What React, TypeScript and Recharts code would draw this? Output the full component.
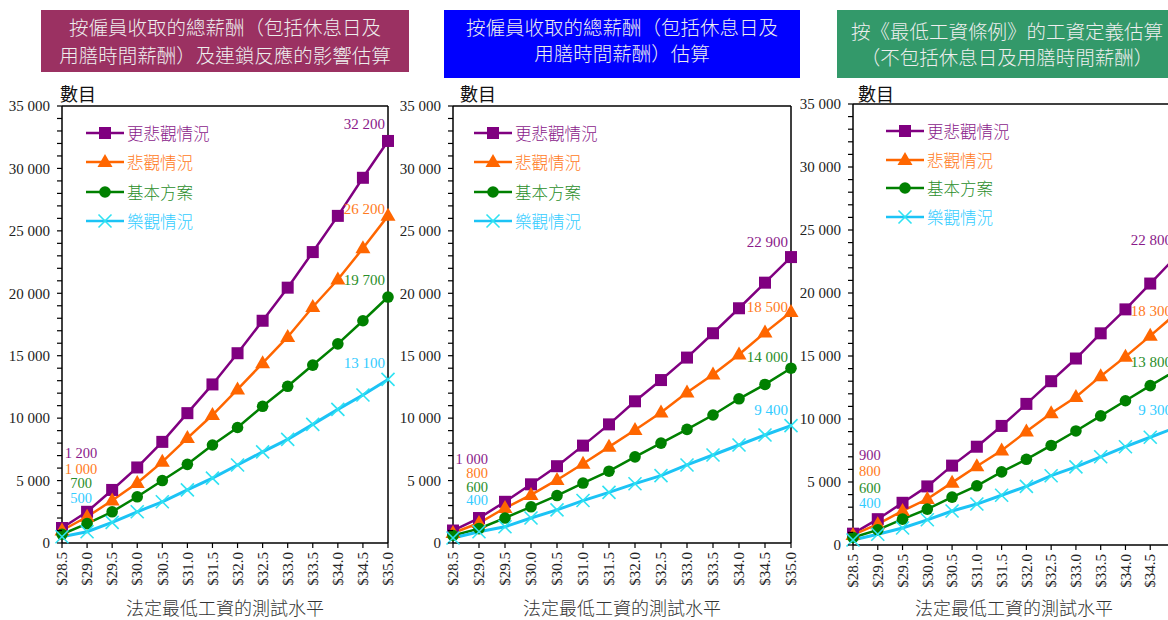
import React from 'react';
import { LineChart, Line, XAxis, YAxis, ReferenceLine, Legend, LabelList } from 'recharts';

const wageLevels = ['$28.5', '$29.0', '$29.5', '$30.0', '$30.5', '$31.0', '$31.5', '$32.0', '$32.5', '$33.0', '$33.5', '$34.0', '$34.5', '$35.0'];
const seriesNames = ['更悲觀情況', '悲觀情況', '基本方案', '樂觀情況'];
const yTicks = Array.from({ length: 36 }, (_, i) => i * 1000);

// panel 1: total pay incl. rest days & meal breaks, with ripple effect
const chainWorse = [1200, 2500, 4250, 6050, 8100, 10400, 12700, 15200, 17800, 20450, 23300, 26200, 29250, 32200];
const chainPess = [1000, 2100, 3400, 4800, 6500, 8400, 10250, 12300, 14400, 16500, 18900, 21100, 23600, 26200];
const chainBase = [700, 1550, 2500, 3700, 5000, 6300, 7850, 9250, 10950, 12550, 14250, 15950, 17800, 19700];
const chainOpt = [500, 900, 1650, 2500, 3300, 4250, 5200, 6250, 7300, 8300, 9500, 10700, 11850, 13100];

// panel 2: total pay incl. rest days & meal breaks
const totalWorse = [1000, 2000, 3300, 4700, 6150, 7800, 9500, 11350, 13050, 14850, 16800, 18800, 20850, 22900];
const totalPess = [800, 1600, 2800, 3850, 5050, 6350, 7700, 9050, 10450, 12050, 13500, 15100, 16850, 18500];
const totalBase = [600, 1150, 2000, 2900, 3800, 4800, 5750, 6900, 8000, 9100, 10250, 11550, 12700, 14000];
const totalOpt = [400, 900, 1300, 2000, 2650, 3400, 4050, 4750, 5400, 6250, 7050, 7850, 8650, 9400];

// panel 3: wages as defined in the Ordinance
const ordWorse = [900, 2050, 3350, 4650, 6300, 7800, 9450, 11200, 13000, 14800, 16800, 18700, 20750, 22800];
const ordPess = [800, 1650, 2700, 3650, 4950, 6250, 7500, 9000, 10450, 11750, 13400, 14950, 16600, 18300];
const ordBase = [600, 1200, 2050, 2850, 3800, 4700, 5800, 6800, 7900, 9050, 10250, 11450, 12650, 13800];
const ordOpt = [400, 850, 1350, 2000, 2700, 3250, 3950, 4650, 5500, 6200, 7000, 7800, 8550, 9300];

const SERIF = '"Liberation Serif", "DejaVu Serif", serif';
const CJK = '"Noto Sans CJK TC", "Noto Sans CJK SC", sans-serif';

const keys = ['worse', 'pess', 'base', 'opt'];
const lineColors = ['#800080', '#FF6600', '#008000', '#1CC3F5'];
const markColors = ['#800080', '#FF6600', '#008000', '#2EE2F2'];
const textColors = ['#8A1A8A', '#FF7A22', '#2A8E2A', '#33CCFF'];

const fmt = (v: number) => String(Math.round(v)).replace(/\B(?=(\d{3})+(?!\d))/g, ' ');

const makeRows = (a: number[], b: number[], c: number[], d: number[]) =>
  wageLevels.map((w, i) => ({ wage: w, worse: a[i], pess: b[i], base: c[i], opt: d[i] }));

function marker(i: number, cx: number, cy: number) {
  if (i === 0) return <rect x={cx - 6} y={cy - 6} width={12} height={12} fill={markColors[0]} />;
  if (i === 1) return <polygon points={`${cx},${cy - 8} ${cx + 7.5},${cy + 5} ${cx - 7.5},${cy + 5}`} fill={markColors[1]} />;
  if (i === 2) return <circle cx={cx} cy={cy} r={5.8} fill={markColors[2]} />;
  return (
    <g stroke={markColors[3]} strokeWidth={1.6}>
      <line x1={cx - 6.5} y1={cy - 6.5} x2={cx + 6.5} y2={cy + 6.5} />
      <line x1={cx - 6.5} y1={cy + 6.5} x2={cx + 6.5} y2={cy - 6.5} />
    </g>
  );
}

const serifStyle = { fontFamily: SERIF, fontSize: 15 };

const YTick = (props: any) => {
  const { x, y, payload } = props;
  const major = payload.value % 5000 === 0;
  return (
    <g>
      <line x1={x - 5} x2={x} y1={y} y2={y} stroke="#000" strokeWidth={1.2} />
      {major && (
        <text x={x - 12} y={y} dy="0.35em" textAnchor="end" style={serifStyle} fill="#222">
          {fmt(payload.value)}
        </text>
      )}
    </g>
  );
};

const XTick = (props: any) => {
  const { x, y, payload } = props;
  return (
    <g>
      <line x1={x} x2={x} y1={y} y2={y + 5} stroke="#000" strokeWidth={1.2} />
      <text transform={`translate(${x},${y + 9}) rotate(-90)`} textAnchor="end" dy="0.35em" style={serifStyle} fill="#222">
        {payload.value}
      </text>
    </g>
  );
};

interface PanelCfg {
  left: number;
  yWidth: number;
  top: number;
  right: number;
  rows: any[];
  title: string[];
  box: { left: number; top: number; width: number; height: number; bg: string; lh: number; pad: number };
  legend: { left: number; top: number; rowH: number };
  firstAnchor: 'start' | 'middle' | 'end';
  firstDx: number;
  firstDy: number[];
  lastDy: number[];
  plotCenter: number;
}

const panels: PanelCfg[] = [
  {
    left: 0, yWidth: 62, top: 106, right: 12,
    rows: makeRows(chainWorse, chainPess, chainBase, chainOpt),
    title: ['按僱員收取的總薪酬（包括休息日及', '用膳時間薪酬）及連鎖反應的影響估算'],
    box: { left: 41, top: 10, width: 368, height: 62, bg: '#9B3162', lh: 28, pad: 3 },
    legend: { left: 86, top: 118, rowH: 29.5 },
    firstAnchor: 'middle', firstDx: 19, firstDy: [-75, -61.5, -51, -39],
    lastDy: [-17, -7, -17, -17],
    plotCenter: 225,
  },
  {
    left: 400, yWidth: 53, top: 106, right: 9,
    rows: makeRows(totalWorse, totalPess, totalBase, totalOpt),
    title: ['按僱員收取的總薪酬（包括休息日及', '用膳時間薪酬）估算'],
    box: { left: 444, top: 10, width: 356, height: 68, bg: '#0000FF', lh: 26, pad: 4 },
    legend: { left: 74, top: 118, rowH: 29.5 },
    firstAnchor: 'end', firstDx: 35, firstDy: [-71.5, -60, -48.5, -38],
    lastDy: [-15, -5, -11, -16],
    plotCenter: 622,
  },
  {
    left: 800, yWidth: 53, top: 104, right: 25,
    rows: makeRows(ordWorse, ordPess, ordBase, ordOpt),
    title: ['按《最低工資條例》的工資定義估算', '（不包括休息日及用膳時間薪酬）'],
    box: { left: 837, top: 10, width: 340, height: 68, bg: '#33996A', lh: 26, pad: 8 },
    legend: { left: 86, top: 117, rowH: 28.5 },
    firstAnchor: 'start', firstDx: 6, firstDy: [-79, -64, -50, -37],
    lastDy: [-18, -4, -9, -18],
    plotCenter: 1014,
  },
];

function Panel({ cfg }: { cfg: PanelCfg }) {
  const last = wageLevels.length - 1;
  const legendContent = () => (
    <div style={{ display: 'flex', flexDirection: 'column' }}>
      {seriesNames.map((name, i) => (
        <div key={name} style={{ height: cfg.legend.rowH, display: 'flex', alignItems: 'center' }}>
          <svg width={38} height={18}>
            <line x1={0} x2={38} y1={9} y2={9} stroke={lineColors[i]} strokeWidth={2.5} />
            {marker(i, 19, 9)}
          </svg>
          <span style={{ color: textColors[i], fontSize: 16.5, marginLeft: 3, fontFamily: CJK, fontWeight: 300, lineHeight: 1 }}>{name}</span>
        </div>
      ))}
    </div>
  );

  return (
    <div style={{ position: 'absolute', left: cfg.left, top: 0 }}>
      <LineChart width={400} height={620} data={cfg.rows} margin={{ top: cfg.top, right: cfg.right, bottom: 0, left: 0 }}>
        <XAxis
          dataKey="wage"
          interval={0}
          height={620 - cfg.top - (cfg.top === 104 ? 441 : 437)}
          tickSize={0}
          tickMargin={0}
          tick={<XTick />}
          axisLine={{ stroke: '#000', strokeWidth: 1.5 }}
        />
        <YAxis
          width={cfg.yWidth}
          domain={[0, 35000]}
          ticks={yTicks}
          interval={0}
          tickSize={0}
          tickMargin={0}
          tick={<YTick />}
          axisLine={{ stroke: '#000', strokeWidth: 1.5 }}
        />
        <ReferenceLine y={35000} stroke="#000" strokeWidth={1.5} />
        <ReferenceLine x="$35.0" stroke="#000" strokeWidth={1.5} />
        <Legend
          layout="vertical"
          verticalAlign="middle"
          align="center"
          content={legendContent}
          wrapperStyle={{ left: cfg.legend.left, top: cfg.legend.top, width: 'auto' }}
        />
        {keys.map((k, i) => (
          <Line
            key={k}
            dataKey={k}
            name={seriesNames[i]}
            type="linear"
            stroke={lineColors[i]}
            strokeWidth={i === 3 ? 3 : 2.5}
            isAnimationActive={false}
            dot={(p: any) => <g key={`${k}-${p.index}`}>{marker(i, p.cx, p.cy)}</g>}
            activeDot={false}
          >
            <LabelList
              dataKey={k}
              content={(p: any) => {
                if (p.index === 0) {
                  return (
                    <text x={p.x + cfg.firstDx} y={p.y + cfg.firstDy[i]} dy="0.35em" textAnchor={cfg.firstAnchor} style={{ fontFamily: SERIF, fontSize: 14.5 }} fill={textColors[i]}>
                      {fmt(p.value)}
                    </text>
                  );
                }
                if (p.index === last) {
                  return (
                    <text x={p.x - 3} y={p.y + cfg.lastDy[i]} dy="0.35em" textAnchor="end" style={{ fontFamily: SERIF, fontSize: 15 }} fill={textColors[i]}>
                      {fmt(p.value)}
                    </text>
                  );
                }
                return null;
              }}
            />
          </Line>
        ))}
      </LineChart>
    </div>
  );
}

export default function App() {
  return (
    <div style={{ position: 'fixed', left: 0, top: 0, width: 1168, height: 620, overflow: 'hidden', background: '#fff' }}>
      {panels.map((cfg, n) => (
        <React.Fragment key={n}>
          <div
            style={{
              position: 'absolute', left: cfg.box.left, top: cfg.box.top, width: cfg.box.width, height: cfg.box.height,
              background: cfg.box.bg, color: '#eeeeee', fontFamily: CJK, fontWeight: 300, fontSize: 19.5, lineHeight: `${cfg.box.lh}px`,
              textAlign: 'center', paddingTop: cfg.box.pad, boxSizing: 'border-box', whiteSpace: 'nowrap',
            }}
          >
            {cfg.title.map((t) => <div key={t}>{t}</div>)}
          </div>
          <div style={{ position: 'absolute', left: cfg.left + (n === 2 ? 58 : 60), top: 81, fontFamily: CJK, fontSize: 18, color: '#111', lineHeight: '24px' }}>
            數目
          </div>
          <div style={{ position: 'absolute', left: cfg.plotCenter - 110, width: 220, top: 597, textAlign: 'center', fontFamily: CJK, fontWeight: 300, fontSize: 18, color: '#333', lineHeight: '20px' }}>
            法定最低工資的測試水平
          </div>
        </React.Fragment>
      ))}
      {panels.map((cfg, n) => <Panel key={`p${n}`} cfg={cfg} />)}
    </div>
  );
}
